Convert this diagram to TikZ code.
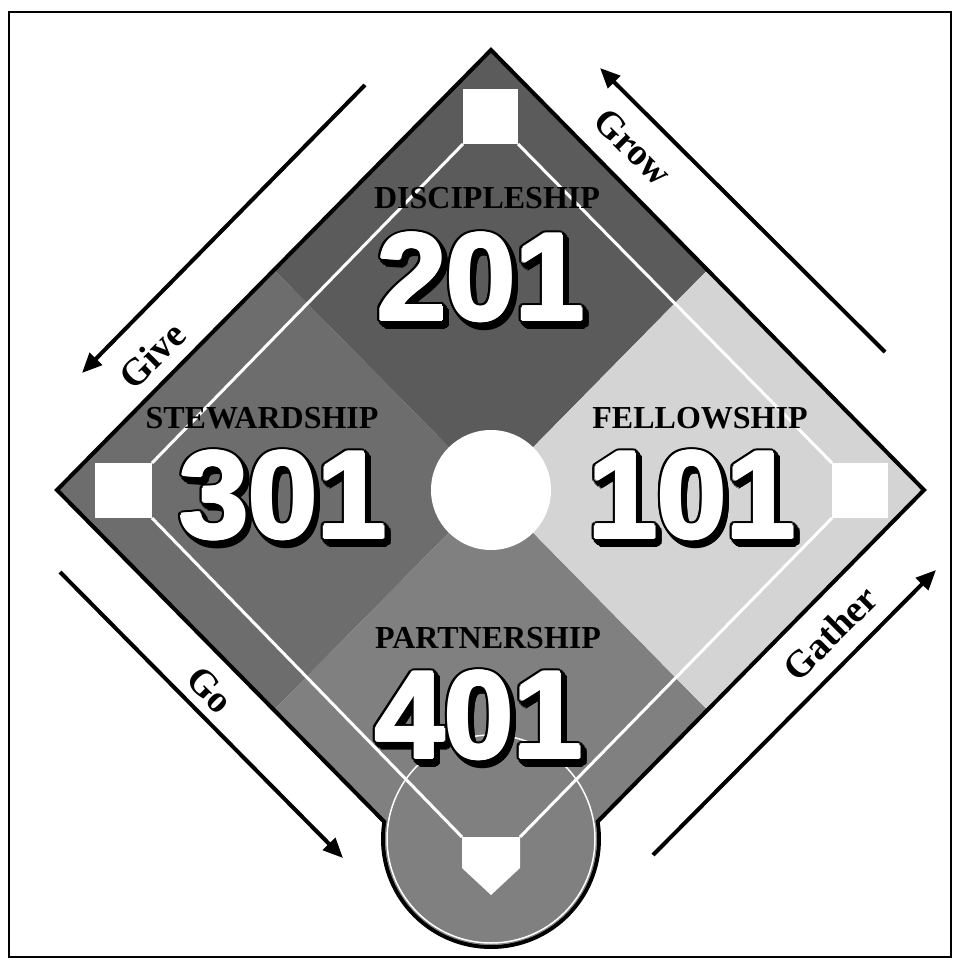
\documentclass[tikz,border=0pt]{standalone}
\usepackage{fontspec}
\setmainfont{Liberation Serif}
\newfontfamily\numfont{Liberation Sans}
\usetikzlibrary{arrows.meta}

\definecolor{qtop}{HTML}{5B5B5B}
\definecolor{qleft}{HTML}{6D6D6D}
\definecolor{qbot}{HTML}{808080}
\definecolor{qright}{HTML}{D4D4D4}

\tikzset{
  numtxt/.style={font=\numfont\bfseries\fontsize{124}{124}\selectfont, inner sep=0pt, anchor=base},
  toplabel/.style={font=\bfseries\fontsize{32}{32}\selectfont, inner sep=0pt, anchor=base, text=black},
  arrlabel/.style={font=\bfseries\fontsize{38}{38}\selectfont, inner sep=0pt, text=black},
  arrowline/.style={line width=4pt, -{Triangle[length=20pt,width=17pt]}},
  baseline/.style={white, line width=3pt},
  basebox/.style={fill=white},
}

\newcommand{\bignum}[4]{%
  \foreach \a in {0,22.5,...,337.5} {
    \node[numtxt, text=black] at ({#2+4+4*cos(\a)}, {#3+5+4*sin(\a)}) {#4};
    \node[numtxt, text=black] at ({#2+2+4*cos(\a)}, {#3+2.5+4*sin(\a)}) {#4};
    \node[numtxt, text=black] at ({#2+4*cos(\a)}, {#3+4*sin(\a)}) {#4};
  }
  \foreach \a in {0,45,...,315} {
    \node[numtxt, text=white] at ({#2+1.6*cos(\a)}, {#3+1.6*sin(\a)}) {#4};
  }
  \node[numtxt, text=white] (#1) at (#2,#3) {#4};
}

\begin{document}
\begin{tikzpicture}[x=1pt,y=-1pt]
\useasboundingbox (0,0) rectangle (960,968);
\fill[white] (0,0) rectangle (960,968);
\draw[line width=2pt] (9,12) rectangle (951,957);

% key points
\coordinate (T) at (491,50);
\coordinate (L) at (57,490);
\coordinate (R) at (924,490);
\coordinate (B) at (491,930);
\coordinate (C) at (491,490);
\coordinate (UL) at (274,270);
\coordinate (UR) at (707.5,270);
\coordinate (LL) at (274,710);
\coordinate (LR) at (707.5,710);
\coordinate (H) at (491,839);

% home circle outline
\filldraw[fill=qbot, draw=black, line width=4pt] (H) circle (108);

% quadrants
\fill[qtop] (T) -- (UR) -- (C) -- (UL) -- cycle;
\fill[qleft] (UL) -- (C) -- (LL) -- (L) -- cycle;
\fill[qbot] (C) -- (LR) -- (B) -- (LL) -- cycle;
\fill[qright] (UR) -- (R) -- (LR) -- (C) -- cycle;

% diamond outline
\draw[line width=4pt, line join=miter] (T) -- (R) -- (B) -- (L) -- cycle;

% home circle interior
\fill[qbot] (H) circle (106);
\draw[white, line width=1.5pt] (H) circle (104);

% base lines
\draw[baseline] (463,144) -- (152,463);
\draw[baseline] (152,518) -- (462,837);
\draw[baseline] (520,837) -- (832,518);
\draw[baseline] (832,463) -- (518,144);

% bases
\fill[basebox] (463,89) rectangle (518,144);
\fill[basebox] (95,463) rectangle (152,518);
\fill[basebox] (832,463) rectangle (888,518);
\fill[basebox] (462,837) -- (520,837) -- (520,868) -- (491,895) -- (462,868) -- cycle;

% center circle
\fill[white] (C) circle (60);

% labels
\node[toplabel] (discL) at (487,209) {DISCIPLESHIP};
\node[toplabel] (stewL) at (262,428) {STEWARDSHIP};
\node[toplabel] (fellL) at (700,428) {FELLOWSHIP};
\node[toplabel] (partL) at (488,648) {PARTNERSHIP};

\bignum{n201}{481}{320}{201}
\bignum{n301}{283}{538}{301}
\bignum{n101}{692}{538}{101}
\bignum{n401}{479}{758}{401}

% arrows
\coordinate (growS) at (885,352);
\coordinate (growE) at (600,68);
\coordinate (giveS) at (365,85);
\coordinate (giveE) at (82,373);
\coordinate (goS) at (60,572);
\coordinate (goE) at (343,858);
\coordinate (gathS) at (653,855);
\coordinate (gathE) at (936,570);
\draw[arrowline] (growS) -- (growE);
\draw[arrowline] (giveS) -- (giveE);
\draw[arrowline] (goS) -- (goE);
\draw[arrowline] (gathS) -- (gathE);

\node[arrlabel, rotate=-45] (growL) at (633,147) {Grow};
\node[arrlabel, rotate=45] (giveL) at (152,355) {Give};
\node[arrlabel, rotate=-45] (goL) at (210,690) {Go};
\node[arrlabel, rotate=45] (gathL) at (830,633) {Gather};
\end{tikzpicture}
\end{document}
